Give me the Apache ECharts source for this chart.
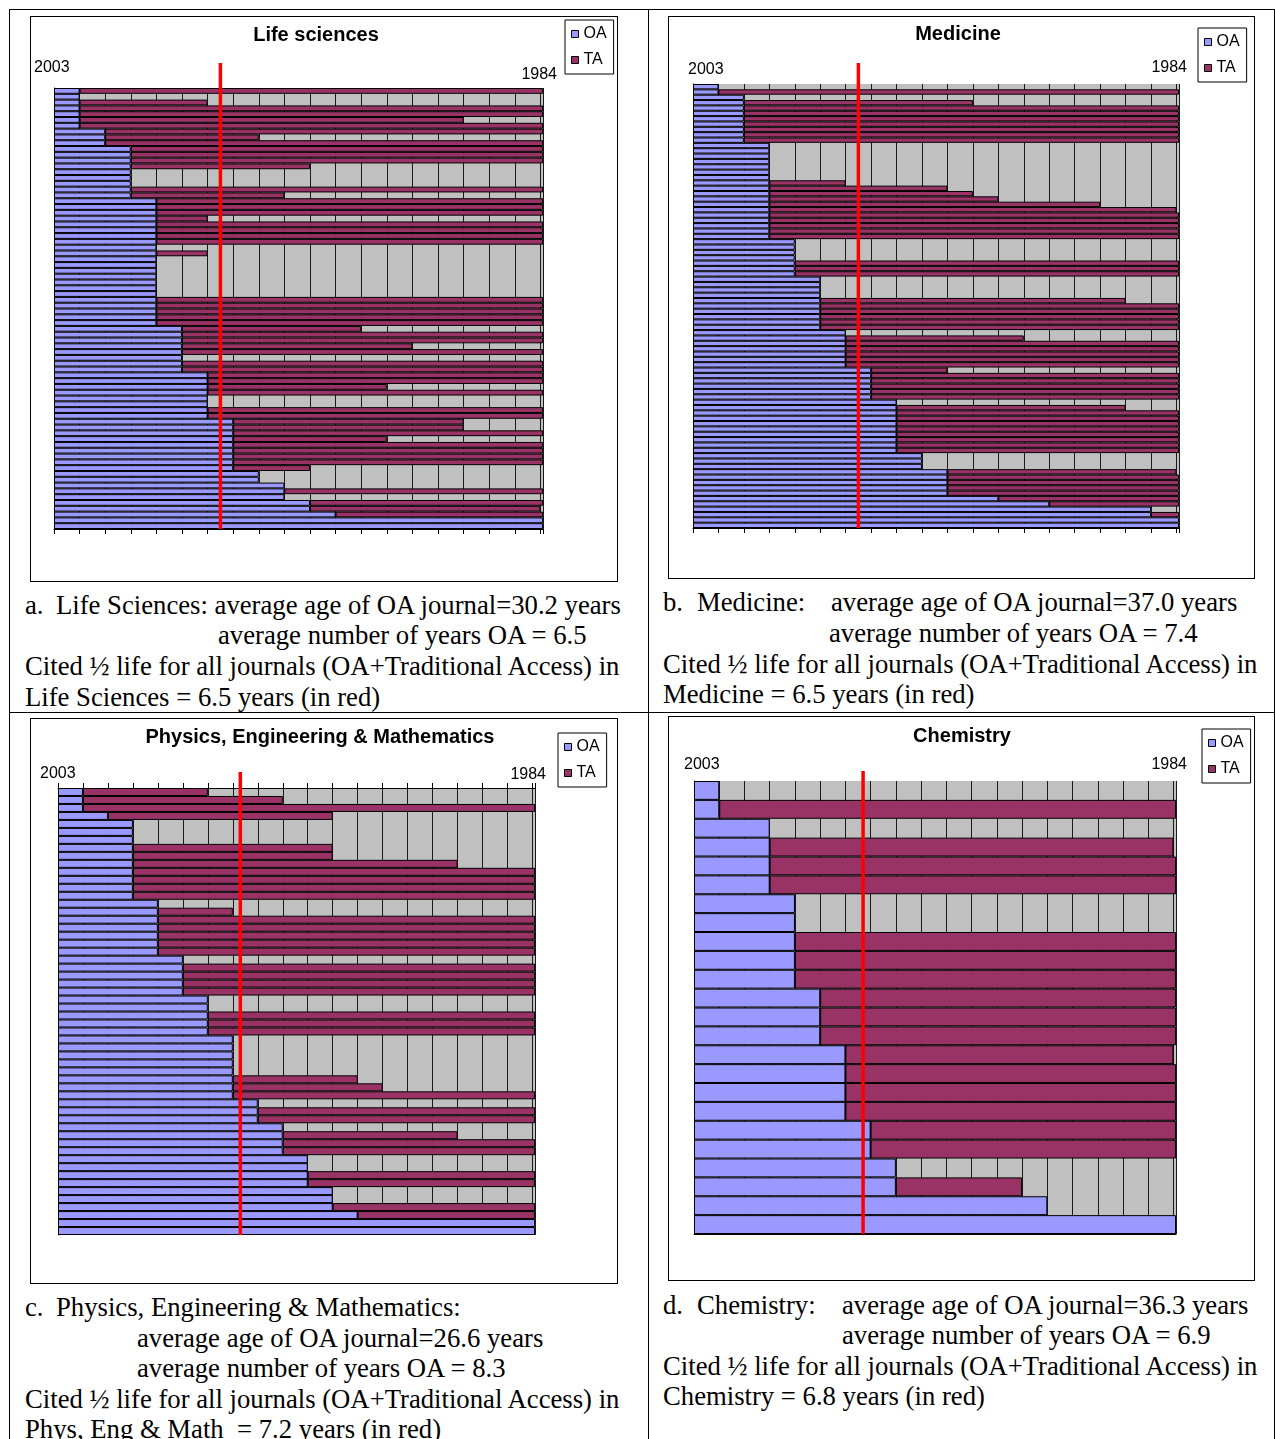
<!DOCTYPE html>
<html><head><meta charset="utf-8">
<script src="https://cdn.jsdelivr.net/npm/echarts@6/dist/echarts.min.js"></script>
<style>
html,body{margin:0;padding:0;background:#fff;}
body{width:1275px;height:1439px;position:relative;overflow:hidden;}
.frame{position:absolute;border:1px solid #000;box-sizing:border-box;background:#fff;}
.chart{position:absolute;left:0;top:0;width:100%;height:100%;}
.cap{position:absolute;font-family:"Liberation Serif","Times New Roman",serif;font-size:26.7px;line-height:1;white-space:pre;color:#000;}
.rule{position:absolute;background:#000;}
</style></head><body>
<div class="rule" style="left:9px;top:9px;width:1266px;height:1px"></div>
<div class="rule" style="left:9px;top:9px;width:1px;height:1430px"></div>
<div class="rule" style="left:648px;top:9px;width:1px;height:1430px"></div>
<div class="rule" style="left:9px;top:712px;width:1266px;height:1px"></div>
<div class="rule" style="left:1274px;top:9px;width:1px;height:1430px"></div>

<div class="frame" style="left:30px;top:16px;width:588px;height:566px"><div class="chart" id="cA"></div></div>
<div class="frame" style="left:668px;top:16px;width:587px;height:563px"><div class="chart" id="cB"></div></div>
<div class="frame" style="left:30px;top:718px;width:588px;height:566px"><div class="chart" id="cC"></div></div>
<div class="frame" style="left:668px;top:716px;width:587px;height:565px"><div class="chart" id="cD"></div></div>

<div class="cap" style="left:25px;top:592px">a.</div>
<div class="cap" style="left:56px;top:592px">Life Sciences: average age of OA journal=30.2 years</div>
<div class="cap" style="left:218px;top:622px">average number of years OA = 6.5</div>
<div class="cap" style="left:25px;top:653px">Cited ½ life for all journals (OA+Traditional Access) in</div>
<div class="cap" style="left:25px;top:684px">Life Sciences = 6.5 years (in red)</div>

<div class="cap" style="left:663px;top:589px">b.</div>
<div class="cap" style="left:697px;top:589px">Medicine:</div>
<div class="cap" style="left:831px;top:589px">average age of OA journal=37.0 years</div>
<div class="cap" style="left:829px;top:620px">average number of years OA = 7.4</div>
<div class="cap" style="left:663px;top:651px">Cited ½ life for all journals (OA+Traditional Access) in</div>
<div class="cap" style="left:663px;top:681px">Medicine = 6.5 years (in red)</div>

<div class="cap" style="left:25px;top:1294px">c.</div>
<div class="cap" style="left:56px;top:1294px">Physics, Engineering &amp; Mathematics:</div>
<div class="cap" style="left:137px;top:1325px">average age of OA journal=26.6 years</div>
<div class="cap" style="left:137px;top:1355px">average number of years OA = 8.3</div>
<div class="cap" style="left:25px;top:1386px">Cited ½ life for all journals (OA+Traditional Access) in</div>
<div class="cap" style="left:25px;top:1416px">Phys, Eng &amp; Math  = 7.2 years (in red)</div>

<div class="cap" style="left:663px;top:1292px">d.</div>
<div class="cap" style="left:697px;top:1292px">Chemistry:</div>
<div class="cap" style="left:842px;top:1292px">average age of OA journal=36.3 years</div>
<div class="cap" style="left:842px;top:1322px">average number of years OA = 6.9</div>
<div class="cap" style="left:663px;top:1353px">Cited ½ life for all journals (OA+Traditional Access) in</div>
<div class="cap" style="left:663px;top:1383px">Chemistry = 6.8 years (in red)</div>

<script>
// ---------------- DATA ----------------
const yearEnds = ['2003', '1984'];          // left end, right end of the year axis
const seriesNames = ['OA', 'TA'];
const axisMaxYears = 19.1;                  // span of the year axis (years)

// Life sciences: years OA / years TA per journal (top to bottom)
const lifeTitle = 'Life sciences';
const lifeHalfLife = 6.5;                   // red line position
const lifeOA = [1,1,1,1,1,1,1, 2,2,2, 3,3,3,3,3,3,3,3,3,
  4,4,4,4,4,4,4,4,4,4,4,4,4,4,4,4,4,4,4,4,4,4,
  5,5,5,5,5,5,5,5, 6,6,6,6,6,6,6,6, 7,7,7,7,7,7,7,7,7,
  8,8, 9,9,9, 10,10, 11, 19.1,19.1];
const lifeTA = [18.1,0,5,18.1,18.1,15,18.1, 17.1,6,17.1, 16.1,16.1,16.1,7,0,0,0,16.1,6,
  15.1,15.1,15.1,2,15.1,15.1,15.1,15.1,0,2,0,0,0,0,0,0,0,15.1,15.1,15.1,15.1,15.1,
  7,14.1,14.1,9,14.1,0,14.1,14.1, 13.1,13.1,7,13.1,0,0,13.1,13.1, 9,9,12.1,6,12.1,12.1,12.1,12.1,3,
  0,0, 0,10.1,0, 9.1,9, 8.1, 0,0];

// Medicine
const medTitle = 'Medicine';
const medHalfLife = 6.5;
const medOA = [1,1, 2,2,2,2,2,2,2,2,2,
  3,3,3,3,3,3,3,3,3,3,3,3,3,3,3,3,3,3,
  4,4,4,4,4,4,4, 5,5,5,5,5,5,5,5,5,5, 6,6,6,6,6,6,6, 7,7,7,7,7,7,
  8,8,8,8,8,8,8,8,8,8, 9,9,9, 10,10,10,10,10, 12, 14, 18,18, 19.1,19.1];
const medTA = [0,18.1, 0,9,17.1,17.1,17.1,17.1,17.1,17.1,17.1,
  0,0,0,0,0,0,0,3,7,8,9,13,16,16.1,16.1,16.1,16.1,16.1,
  0,0,0,0,15.1,15.1,15.1, 0,0,0,0,12,14.1,14.1,14.1,14.1,14.1, 0,7,13.1,13.1,13.1,13.1,13.1,
  3,12.1,12.1,12.1,12.1,12.1, 0,9,11.1,11.1,11.1,11.1,11.1,11.1,11.1,11.1, 0,0,0,
  9,9.1,9.1,9.1,9.1, 7.1, 5.1, 0,1.1, 0,0];

// Physics, Engineering & Mathematics
const physTitle = 'Physics, Engineering & Mathematics';
const physHalfLife = 7.3;
const physOA = [1,1,1, 2, 3,3,3,3,3,3,3,3,3,3, 4,4,4,4,4,4,4, 5,5,5,5,5, 6,6,6,6,6,
  7,7,7,7,7,7,7,7, 8,8,8, 9,9,9,9, 10,10,10,10, 11,11,11, 12, 19.1,19.1];
const physTA = [5,8,18.1, 9, 0,0,0,8,8,13,16.1,16.1,16.1,16.1, 0,3,15.1,15.1,15.1,15.1,15.1,
  0,14.1,14.1,14.1,14.1, 0,0,13.1,13.1,13.1, 0,0,0,0,0,5,6,12.1, 0,11.1,11.1,
  0,7,10.1,10.1, 0,0,9.1,9.1, 0,0,8.1, 7.1, 0,0];

// Chemistry
const chemTitle = 'Chemistry';
const chemHalfLife = 6.7;
const chemOA = [1,1,3,3,3,3,4,4,4,4,4,5,5,5,6,6,6,6,7,7,8,8,14,19.1];
const chemTA = [0,18.1,0,16,16.1,16.1,0,0,15.1,15.1,15.1,14.1,14.1,14.1,13,13.1,13.1,13.1,12.1,12.1,0,5,0,0];

// ---------------- DRAW ----------------
const SANS = '"Liberation Sans", Arial, sans-serif';
const OA_COLOR = '#9999FF', TA_COLOR = '#993366', PLOT_BG = '#C0C0C0';

function drawPanel(id, cfg) {
  const chart = echarts.init(document.getElementById(id), null, {renderer: 'canvas'});
  const rows = cfg.oa.map((_, i) => 'J' + (i + 1));
  const g = cfg.grid;
  chart.setOption({
    animation: false,
    grid: {left: g.left, top: g.top, width: g.width, height: g.height, show: true,
      backgroundColor: PLOT_BG, borderWidth: 0},
    xAxis: {type: 'value', min: 0, max: axisMaxYears, interval: 1,
      position: cfg.tickPos === 'top' ? 'top' : 'bottom',
      axisLabel: {show: false},
      axisLine: {show: true, onZero: false, lineStyle: {color: '#000', width: 1}},
      axisTick: {show: cfg.tickPos !== 'none', length: 5, lineStyle: {color: '#000'}},
      splitLine: {show: true, lineStyle: {color: '#1a1a1a', width: 1}}},
    yAxis: {type: 'category', inverse: true, data: rows,
      axisLabel: {show: false}, axisTick: {show: false},
      axisLine: {show: true, lineStyle: {color: '#000', width: 1}}},
    legend: {orient: 'vertical', left: cfg.legend[0], top: cfg.legend[1],
      data: seriesNames, icon: 'rect', itemWidth: 7, itemHeight: 7, itemGap: 10,
      itemStyle: {borderColor: '#000', borderWidth: 1},
      padding: [6, 7, 6, 6], borderColor: '#000', borderWidth: 1, backgroundColor: '#fff',
      textStyle: {fontFamily: SANS, fontSize: 16, color: '#000'}, itemTextGap: 6},
    series: [
      {name: seriesNames[0], type: 'bar', stack: 'y', data: cfg.oa, barCategoryGap: '0%',
        itemStyle: {color: OA_COLOR, borderColor: '#000', borderWidth: 1}},
      {name: seriesNames[1], type: 'bar', stack: 'y', data: cfg.ta.map(v => v === 0 ? null : v), barCategoryGap: '0%',
        itemStyle: {color: TA_COLOR, borderColor: '#000', borderWidth: 1}}
    ]
  });
  const x = chart.convertToPixel({xAxisIndex: 0}, cfg.half);
  chart.setOption({
    graphic: [
      {type: 'text', id: 'title', x: cfg.title[0], y: cfg.title[1],
        style: {text: cfg.name, font: 'bold 20px ' + SANS, fill: '#000', textAlign: 'center', textVerticalAlign: 'middle'}},
      {type: 'text', id: 'yl', x: cfg.lab0[0], y: cfg.lab0[1],
        style: {text: yearEnds[0], font: '16px ' + SANS, fill: '#000', textAlign: 'left', textVerticalAlign: 'middle'}},
      {type: 'text', id: 'yr', x: cfg.lab1[0], y: cfg.lab1[1],
        style: {text: yearEnds[1], font: '16px ' + SANS, fill: '#000', textAlign: 'right', textVerticalAlign: 'middle'}},
      {type: 'line', id: 'half', z: 100,
        shape: {x1: x, y1: g.top - cfg.redExt, x2: x, y2: g.top + g.height},
        style: {stroke: '#FF0000', lineWidth: 3.5}}
    ]
  });
}

drawPanel('cA', {name: lifeTitle, oa: lifeOA, ta: lifeTA, half: lifeHalfLife,
  grid: {left: 23, top: 71, width: 489, height: 441}, tickPos: 'bottom',
  title: [285, 18], lab0: [3, 51], lab1: [526, 58], legend: [534, 3], redExt: 25});
drawPanel('cB', {name: medTitle, oa: medOA, ta: medTA, half: medHalfLife,
  grid: {left: 24, top: 67, width: 486, height: 444}, tickPos: 'bottom',
  title: [289, 17], lab0: [19, 53], lab1: [518, 51], legend: [529, 11], redExt: 21});
drawPanel('cC', {name: physTitle, oa: physOA, ta: physTA, half: physHalfLife,
  grid: {left: 27, top: 69, width: 477, height: 447}, tickPos: 'top',
  title: [289, 18], lab0: [9, 55], lab1: [515, 56], legend: [527, 14], redExt: 16});
drawPanel('cD', {name: chemTitle, oa: chemOA, ta: chemTA, half: chemHalfLife,
  grid: {left: 25, top: 64, width: 482, height: 453}, tickPos: 'none',
  title: [293, 19], lab0: [15, 48], lab1: [518, 48], legend: [533, 12], redExt: 10});
</script>
</body></html>
